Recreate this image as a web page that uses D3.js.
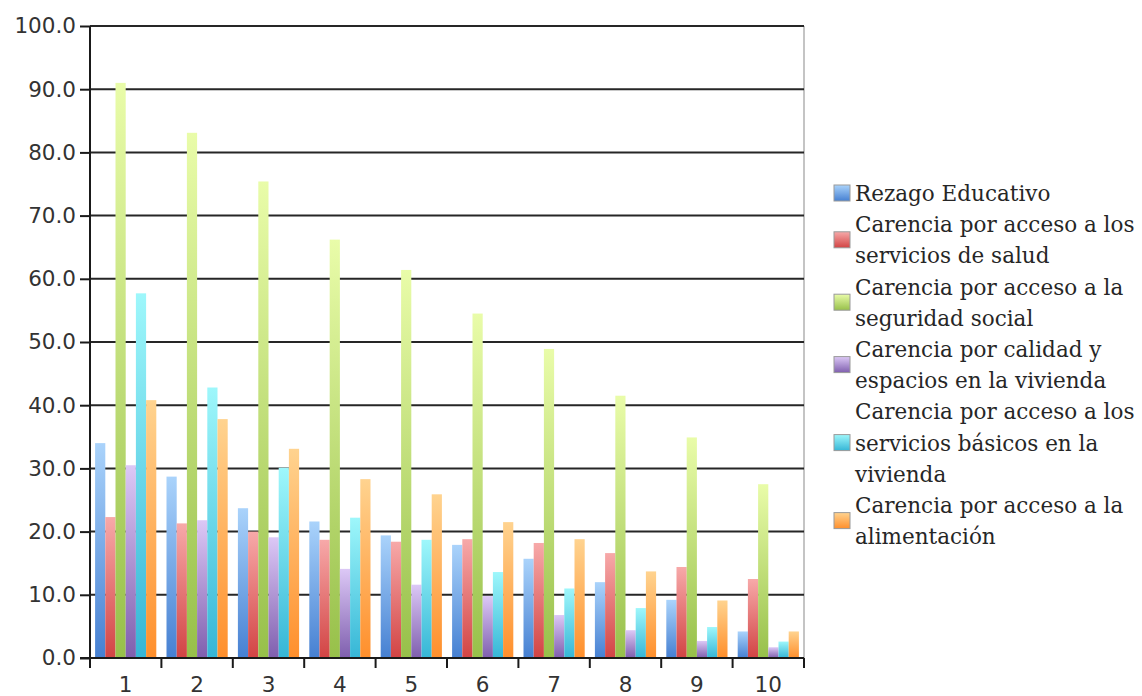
<!DOCTYPE html>
<html>
<head>
<meta charset="utf-8">
<script src="https://cdn.jsdelivr.net/npm/d3@7"></script>
<style>
  html, body { margin: 0; padding: 0; background: #fff; }
  svg { display: block; }
</style>
</head>
<body>
<svg id="chart" width="1142" height="696"></svg>
<script>
// Deciles 1..10 and the share of population with each deprivation
const categories = ["1", "2", "3", "4", "5", "6", "7", "8", "9", "10"];
const seriesNames = [
  "Rezago Educativo",
  "Carencia por acceso a los servicios de salud",
  "Carencia por acceso a la seguridad social",
  "Carencia por calidad y espacios en la vivienda",
  "Carencia por acceso a los servicios básicos en la vivienda",
  "Carencia por acceso a la alimentación"
];
const legendLines = [
  ["Rezago Educativo"],
  ["Carencia por acceso a los", "servicios de salud"],
  ["Carencia por acceso a la", "seguridad social"],
  ["Carencia por calidad y", "espacios en la vivienda"],
  ["Carencia por acceso a los", "servicios básicos en la", "vivienda"],
  ["Carencia por acceso a la", "alimentación"]
];
const rezago       = [34.0, 28.7, 23.7, 21.6, 19.4, 17.9, 15.7, 12.0, 9.2, 4.2];
const salud        = [22.3, 21.3, 20.0, 18.7, 18.4, 18.8, 18.2, 16.6, 14.4, 12.5];
const seguridad    = [91.0, 83.1, 75.4, 66.2, 61.4, 54.5, 48.9, 41.5, 34.9, 27.5];
const vivienda     = [30.5, 21.8, 19.1, 14.1, 11.6, 9.8, 6.8, 4.4, 2.7, 1.7];
const basicos      = [57.7, 42.8, 30.1, 22.2, 18.7, 13.6, 11.0, 7.9, 4.9, 2.6];
const alimentacion = [40.8, 37.8, 33.1, 28.3, 25.9, 21.5, 18.8, 13.7, 9.1, 4.2];
const yTicks = [0, 10, 20, 30, 40, 50, 60, 70, 80, 90, 100];

const seriesValues = [rezago, salud, seguridad, vivienda, basicos, alimentacion];
// light (top) and deep (bottom) shade of each series
const colorTop    = ["#aad3fb", "#f7a9a9", "#e9fca9", "#dcc8f6", "#9ef7fb", "#ffd38f"];
const colorBottom = ["#4680d2", "#d24444", "#97c04a", "#7f5fae", "#36b6d6", "#ff8f2c"];

const svg = d3.select("#chart");
const margin = { left: 90, right: 804, top: 26, bottom: 658 };

const x0 = d3.scaleBand().domain(categories).range([margin.left, margin.right]).paddingInner(0).paddingOuter(0);
const x1 = d3.scaleBand().domain(d3.range(seriesNames.length)).range([0, x0.bandwidth()])
  .paddingInner(0).paddingOuter(0.5);
const y = d3.scaleLinear().domain([0, 100]).range([margin.bottom, margin.top]);

// gradients
const defs = svg.append("defs");
seriesNames.forEach((s, i) => {
  const g = defs.append("linearGradient").attr("id", "grad" + i)
    .attr("x1", 0).attr("y1", 0).attr("x2", 0).attr("y2", 1);
  g.append("stop").attr("offset", "0%").attr("stop-color", colorTop[i]);
  g.append("stop").attr("offset", "100%").attr("stop-color", colorBottom[i]);
});

// right border of the plot area
svg.append("line")
  .attr("x1", margin.right).attr("x2", margin.right)
  .attr("y1", margin.top).attr("y2", margin.bottom)
  .attr("stroke", "#c4c4c4").attr("stroke-width", 2);

// horizontal grid lines
svg.append("g").selectAll("line").data(yTicks.filter(d => d > 0)).join("line")
  .attr("x1", margin.left).attr("x2", margin.right)
  .attr("y1", d => y(d)).attr("y2", d => y(d))
  .attr("stroke", "#262626").attr("stroke-width", 2);

// bars
const rows = categories.map((c, ci) => ({ cat: c, vals: seriesValues.map(v => v[ci]) }));
const groups = svg.append("g").selectAll("g").data(rows).join("g")
  .attr("transform", d => `translate(${x0(d.cat)},0)`);
groups.selectAll("rect").data(d => d.vals.map((v, i) => ({ v, i }))).join("rect")
  .attr("x", d => x1(d.i))
  .attr("width", x1.bandwidth())
  .attr("y", d => y(d.v))
  .attr("height", d => y(0) - y(d.v))
  .attr("fill", d => `url(#grad${d.i})`);

// y axis
const yAxis = d3.axisLeft(y).tickValues(yTicks).tickFormat(d3.format(".1f")).tickSize(10).tickPadding(4);
const gy = svg.append("g").attr("transform", `translate(${margin.left},0)`).call(yAxis);
gy.select(".domain").remove();
gy.selectAll(".tick line").attr("stroke", "#1a1a1a").attr("stroke-width", 2);
gy.selectAll(".tick text")
  .attr("fill", "#333").style("font-family", "'DejaVu Sans', sans-serif").style("font-size", "21.5px");
svg.append("line")
  .attr("x1", margin.left).attr("x2", margin.left)
  .attr("y1", margin.top).attr("y2", margin.bottom + 10)
  .attr("stroke", "#1a1a1a").attr("stroke-width", 2);

// zero line
svg.append("line")
  .attr("x1", margin.left - 10).attr("x2", margin.right)
  .attr("y1", y(0)).attr("y2", y(0))
  .attr("stroke", "#1a1a1a").attr("stroke-width", 2);

// x axis ticks at category boundaries
const boundaries = categories.map(c => x0(c)).concat([x0(categories[categories.length - 1]) + x0.bandwidth()]);
svg.append("g").selectAll("line").data(boundaries.slice(1)).join("line")
  .attr("x1", d => d).attr("x2", d => d)
  .attr("y1", y(0)).attr("y2", y(0) + 10)
  .attr("stroke", "#1a1a1a").attr("stroke-width", 2);

svg.append("g").selectAll("text").data(categories).join("text")
  .attr("x", d => x0(d) + x0.bandwidth() / 2)
  .attr("y", 692)
  .attr("text-anchor", "middle")
  .attr("fill", "#333")
  .style("font-family", "'DejaVu Sans', sans-serif").style("font-size", "21.5px")
  .text(d => d);

// legend
const legend = svg.append("g");
const lineH = 31.2, base0 = 201, textX = 855;
let lineIdx = 0;
legendLines.forEach((lines, i) => {
  const first = lineIdx;
  lines.forEach(t => {
    legend.append("text")
      .attr("x", textX).attr("y", base0 + lineH * lineIdx)
      .attr("fill", "#262626")
      .style("font-family", "'DejaVu Serif', serif").style("font-size", "21.5px")
      .text(t);
    lineIdx++;
  });
  const mid = base0 + lineH * (first + lineIdx - 1) / 2 - 8;
  legend.append("rect")
    .attr("x", 834).attr("y", mid - 8).attr("width", 16).attr("height", 16)
    .attr("fill", `url(#grad${i})`).attr("stroke", "#9a9a9a").attr("stroke-width", 1);
});
</script>
</body>
</html>
